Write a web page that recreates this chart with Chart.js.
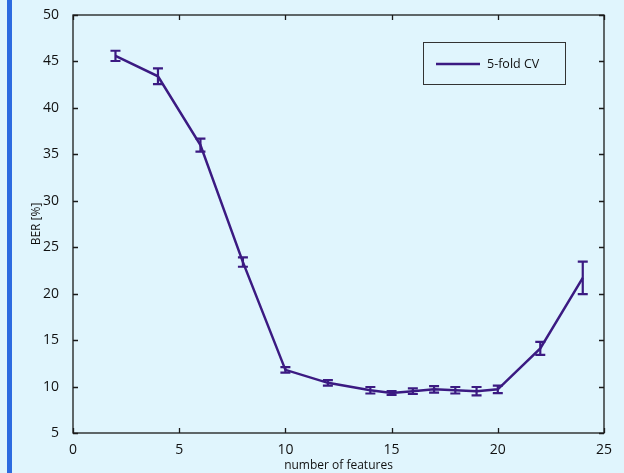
<!DOCTYPE html>
<html>
<head>
<meta charset="utf-8">
<script src="https://cdn.jsdelivr.net/npm/chart.js@4/dist/chart.umd.min.js"></script>
<style>
  html, body { margin: 0; padding: 0; background: #e0f5fd; }
  #wrap { position: relative; width: 624px; height: 473px; }
  #bar { position: absolute; left: 7px; top: 0; width: 5px; height: 473px; background: #2c6be0; }
  canvas { position: absolute; left: 0; top: 0; }
</style>
</head>
<body>
<div id="wrap">
  <div id="bar"></div>
  <canvas id="c" width="624" height="473"></canvas>
</div>
<script>
const features = [2, 4, 6, 8, 10, 12, 14, 15, 16, 17, 18, 19, 20, 22, 24];
const berValues = [45.6, 43.4, 36.0, 23.4, 11.8, 10.4, 9.6, 9.3, 9.5, 9.7, 9.6, 9.5, 9.7, 14.1, 21.7];
const berErrors = [0.55, 0.85, 0.7, 0.5, 0.3, 0.3, 0.35, 0.2, 0.3, 0.35, 0.35, 0.45, 0.4, 0.7, 1.75];
const xTicks = [0, 5, 10, 15, 20, 25];
const yTicks = [5, 10, 15, 20, 25, 30, 35, 40, 45, 50];
const seriesLabel = '5-fold CV';
const xTitle = 'number of features';
const yTitle = 'BER [%]';

const LINE = '#3b1a82';
const AXIS = '#1a1a1a';
const FONT = "'Open Sans', 'DejaVu Sans', sans-serif";

const errorBars = {
  id: 'errorBars',
  afterDatasetsDraw(chart) {
    const { ctx, scales: { x, y } } = chart;
    ctx.save();
    ctx.strokeStyle = LINE;
    ctx.lineWidth = 2.2;
    const cap = 5;
    features.forEach((f, i) => {
      const px = x.getPixelForValue(f);
      const top = y.getPixelForValue(berValues[i] + berErrors[i]);
      const bot = y.getPixelForValue(berValues[i] - berErrors[i]);
      ctx.beginPath();
      ctx.moveTo(px, top); ctx.lineTo(px, bot);
      ctx.moveTo(px - cap, top); ctx.lineTo(px + cap, top);
      ctx.moveTo(px - cap, bot); ctx.lineTo(px + cap, bot);
      ctx.stroke();
    });
    ctx.restore();
  }
};

const frameAndTicks = {
  id: 'frameAndTicks',
  afterDraw(chart) {
    const { ctx, chartArea: a, scales: { x, y } } = chart;
    ctx.save();
    ctx.strokeStyle = AXIS;
    ctx.lineWidth = 1.3;
    ctx.strokeRect(a.left, a.top, a.right - a.left, a.bottom - a.top);
    const tl = 5;
    ctx.beginPath();
    xTicks.forEach(v => {
      const px = Math.round(x.getPixelForValue(v)) + 0.5;
      ctx.moveTo(px, a.bottom); ctx.lineTo(px, a.bottom - tl);
      ctx.moveTo(px, a.top); ctx.lineTo(px, a.top + tl);
    });
    yTicks.forEach(v => {
      const py = Math.round(y.getPixelForValue(v)) + 0.5;
      ctx.moveTo(a.left, py); ctx.lineTo(a.left + tl, py);
      ctx.moveTo(a.right, py); ctx.lineTo(a.right - tl, py);
    });
    ctx.stroke();

    // legend box inside the axes
    const lx = 423, ly = 42, lw = 142, lh = 42;
    ctx.fillStyle = '#e0f5fd';
    ctx.fillRect(lx, ly, lw, lh);
    ctx.strokeStyle = '#333';
    ctx.lineWidth = 1;
    ctx.strokeRect(lx + 0.5, ly + 0.5, lw, lh);
    ctx.strokeStyle = LINE;
    ctx.lineWidth = 2.5;
    ctx.beginPath();
    ctx.moveTo(436, ly + lh / 2 + 1); ctx.lineTo(480, ly + lh / 2 + 1);
    ctx.stroke();
    ctx.fillStyle = '#111';
    ctx.font = '12.5px ' + FONT;
    ctx.textBaseline = 'middle';
    ctx.textAlign = 'left';
    ctx.fillText(chart.data.datasets[0].label, 487, ly + lh / 2 + 1);
    ctx.restore();
  }
};

new Chart(document.getElementById('c'), {
  type: 'line',
  data: {
    datasets: [{
      label: seriesLabel,
      data: features.map((f, i) => ({ x: f, y: berValues[i] })),
      borderColor: LINE,
      borderWidth: 2.5,
      pointRadius: 0,
      tension: 0,
      fill: false
    }]
  },
  options: {
    responsive: false,
    animation: false,
    events: [],
    layout: { padding: { left: 0, right: 20, top: 15, bottom: 0 } },
    plugins: { legend: { display: false }, tooltip: { enabled: false } },
    scales: {
      x: {
        type: 'linear',
        min: 0, max: 25,
        grid: { display: false },
        border: { display: false },
        afterBuildTicks: s => { s.ticks = xTicks.map(v => ({ value: v })); },
        afterFit: s => { s.height = 40; },
        ticks: { color: '#111', font: { family: FONT, size: 14 }, padding: 1, maxRotation: 0 },
        title: { display: true, text: xTitle, color: '#111', font: { family: FONT, size: 12 }, padding: { top: 0, bottom: 0 } }
      },
      y: {
        type: 'linear',
        min: 5, max: 50,
        grid: { display: false },
        border: { display: false },
        afterBuildTicks: s => { s.ticks = yTicks.map(v => ({ value: v })); },
        afterFit: s => { s.width = 73; },
        ticks: { color: '#111', font: { family: FONT, size: 14 }, padding: 6 },
        title: { display: true, text: yTitle, color: '#111', font: { family: FONT, size: 12 }, padding: { top: 29, bottom: 0 } }
      }
    }
  },
  plugins: [errorBars, frameAndTicks]
});
</script>
</body>
</html>
